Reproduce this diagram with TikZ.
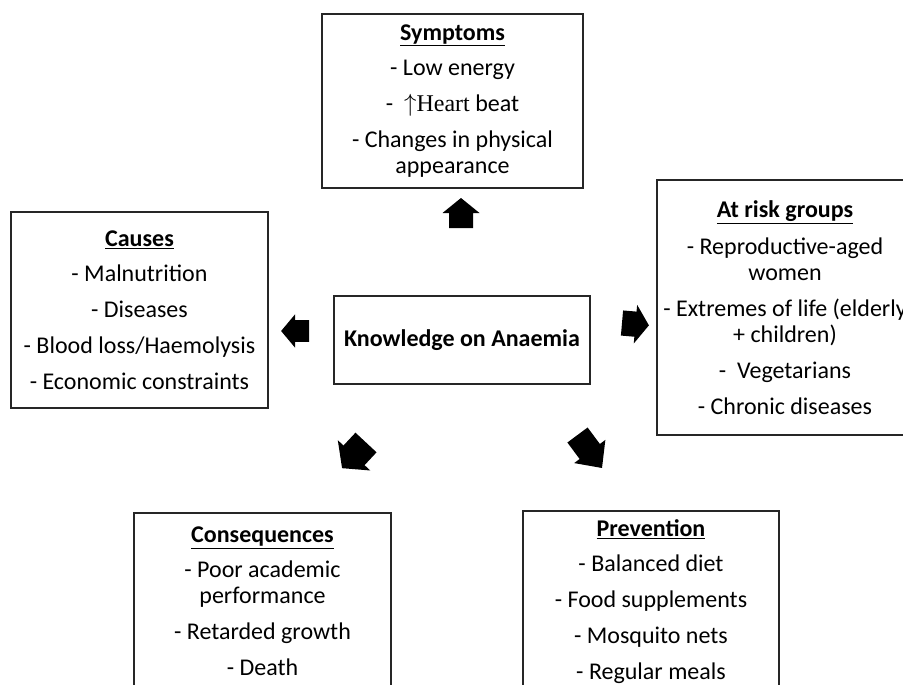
\documentclass[tikz,border=0pt]{standalone}
\usepackage{fontspec}
\setmainfont{Carlito}
\newfontfamily\serifX{Liberation Serif}
\begin{document}
\begin{tikzpicture}[x=1pt,y=-1pt,
  box/.style={draw=black!85, line width=1.6pt, inner sep=0pt},
  txt/.style={align=center, inner sep=0pt, font=\fontsize{24}{26}\selectfont},
  blockarrow/.pic={\fill[black] (0,-12)--(15,-12)--(15,-18.5)--(30,0)--(15,18.5)--(15,12)--(0,12)--cycle;}]
\clip (0,0) rectangle (903,685);
\fill[white] (0,0) rectangle (903,685);
% boxes
\node[box, minimum width=261pt, minimum height=174pt] (symp) at (452.5,101) {};
\node[box, minimum width=257pt, minimum height=196pt] (caus) at (139.5,310) {};
\node[box, minimum width=256pt, minimum height=88pt] (know) at (462,340) {};
\node[box, minimum width=256pt, minimum height=255pt] (risk) at (785,307.5) {};
\node[box, minimum width=257pt, minimum height=177pt] (cons) at (262.5,601.5) {};
\node[box, minimum width=256pt, minimum height=181pt] (prev) at (651,601.5) {};
% texts
\node[txt] (symptxt) at (symp) {\textbf{\underline{Symptoms}}\\[9pt]- Low energy\\[10pt]-\ \ $\uparrow${\serifX Heart} beat\\[10pt]- Changes in physical\\appearance};
\node[txt] (caustxt) at (caus) {\textbf{\underline{Causes}}\\[9pt]- Malnutrition\\[10pt]- Diseases\\[10pt]- Blood loss/Haemolysis\\[10pt]- Economic constraints};
\node[txt] (knowtxt) at (know) {\textbf{Knowledge on Anaemia}};
\node[txt] (risktxt) at (risk) {\textbf{\underline{At risk groups}}\\[11pt]- Reproductive-aged\\women\\[10pt]- Extremes of life (elderly\\+ children)\\[10pt]-\ \ Vegetarians\\[10pt]- Chronic diseases};
\node[txt] (constxt) at (cons) {\textbf{\underline{Consequences}}\\[9pt]- Poor academic\\performance\\[10pt]- Retarded growth\\[10pt]- Death};
\node[txt] (prevtxt) at (prev) {\textbf{\underline{Prevention}}\\[9pt]- Balanced diet\\[10pt]- Food supplements\\[10pt]- Mosquito nets\\[10pt]- Regular meals};
% block arrows
\pic[rotate=90] at (461,228) {blockarrow};
\pic[rotate=180, xscale=0.93, yscale=0.9] at (309,331) {blockarrow};
\pic[rotate=-5, xscale=0.9, yscale=1.05] at (622,323) {blockarrow};
\pic[rotate=-133, xscale=1.17, yscale=1.2] at (366,442.5) {blockarrow};
\pic[rotate=-53.4, xscale=1.37, yscale=1.05] at (577.5,435) {blockarrow};
\end{tikzpicture}
\end{document}
